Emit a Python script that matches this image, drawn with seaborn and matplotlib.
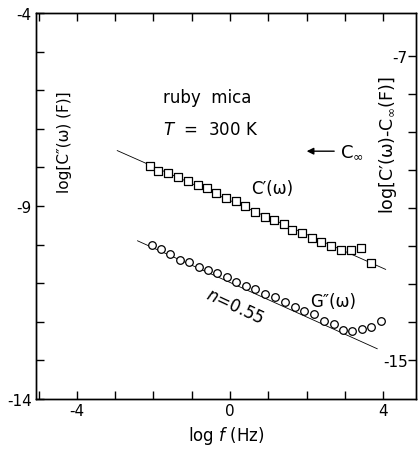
import matplotlib
matplotlib.use("Agg")
import matplotlib.pyplot as plt
import seaborn as sns
import pandas as pd

# C'(w) - C_inf  (right axis), log f in Hz
c1_logf = [-2.10, -1.87, -1.62, -1.37, -1.10, -0.84, -0.60, -0.37, -0.10, 0.15, 0.39, 0.65,
           0.92, 1.16, 1.40, 1.63, 1.89, 2.13, 2.39, 2.63, 2.89, 3.17, 3.43, 3.68]
c1_val = [-9.89, -10.02, -10.09, -10.18, -10.28, -10.41, -10.48, -10.61, -10.74, -10.83, -10.94, -11.10,
          -11.24, -11.33, -11.42, -11.57, -11.67, -11.80, -11.90, -11.99, -12.12, -12.10, -12.05, -12.45]

# G''(w)  (left axis)
g2_logf = [-2.03, -1.80, -1.57, -1.31, -1.07, -0.81, -0.58, -0.34, -0.08, 0.16, 0.42, 0.65,
           0.92, 1.18, 1.44, 1.70, 1.93, 2.20, 2.46, 2.72, 2.95, 3.19, 3.45, 3.69, 3.95]
g2_val = [-10.01, -10.11, -10.24, -10.40, -10.45, -10.58, -10.66, -10.74, -10.84, -10.97, -11.06, -11.15,
          -11.27, -11.36, -11.49, -11.62, -11.73, -11.81, -11.97, -12.06, -12.21, -12.23, -12.19, -12.13, -11.97]

# guide lines (slope n-1 = -0.45)
c1_fit_x = [-2.95, 4.07]
c1_fit_y = [-9.49, -12.62]
g2_fit_x = [-2.42, 3.85]
g2_fit_y = [-9.90, -12.70]

x_ticks = list(range(-5, 5))
x_labels = {-4: "-4", 0: "0", 4: "4"}
yl_ticks = list(range(-14, -3))
yl_labels = {-4: "-4", -9: "-9", -14: "-14"}
yr_ticks = list(range(-15, -6))
yr_labels = {-7: "-7", -15: "-15"}

sns.set_style("ticks")
plt.rcParams["font.family"] = ["DejaVu Sans"]
plt.rcParams["mathtext.fontset"] = "dejavusans"
plt.rcParams["text.color"] = "black"
plt.rcParams["axes.labelcolor"] = "black"
plt.rcParams["xtick.color"] = "black"
plt.rcParams["ytick.color"] = "black"

fig = plt.figure(figsize=(4.19, 4.52), dpi=100)
ax = fig.add_axes([36 / 419, 1 - 400 / 452, 380 / 419, 386 / 452])
ax2 = ax.twinx()

df_c = pd.DataFrame({"logf": c1_logf, "val": c1_val})
df_g = pd.DataFrame({"logf": g2_logf, "val": g2_val})

ax.plot(g2_fit_x, g2_fit_y, color="black", lw=0.6, zorder=1)
sns.scatterplot(data=df_g, x="logf", y="val", ax=ax, marker="o", s=30,
                facecolor="white", edgecolor="black", linewidth=0.9, zorder=3)

ax2.plot(c1_fit_x, c1_fit_y, color="black", lw=0.6, zorder=1)
sns.scatterplot(data=df_c, x="logf", y="val", ax=ax2, marker="s", s=32,
                facecolor="white", edgecolor="black", linewidth=0.9, zorder=3)

ax.set_xlim(-5.07, 4.86)
ax.set_ylim(-14, -4)
ax2.set_ylim(-16.03, -5.87)

ax.set_xticks(x_ticks)
ax.set_xticklabels([x_labels.get(t, "") for t in x_ticks])
ax.set_yticks(yl_ticks)
ax.set_yticklabels([yl_labels.get(t, "") for t in yl_ticks])
ax2.set_yticks(yr_ticks)
ax2.set_yticklabels([yr_labels.get(t, "") for t in yr_ticks])

ax.tick_params(axis="x", direction="in", length=6, width=1, labelsize=11, pad=3, top=True)
ax.tick_params(axis="y", direction="in", length=6, width=1, labelsize=11, pad=3)
ax2.tick_params(axis="y", direction="in", length=6, width=1, labelsize=11, pad=-6)
for lbl in ax2.get_yticklabels():
    lbl.set_horizontalalignment("right")

for a in (ax, ax2):
    for sp in a.spines.values():
        sp.set_linewidth(1.0)
        sp.set_color("black")

ax.set_xlabel("log $f$ (Hz)", fontsize=12, labelpad=4)
ax.set_ylabel("")
ax2.set_ylabel("")

tr = ax.transAxes
ax.text(0.076, 0.668, "log[C\u2033(\u03c9) (F)]", transform=tr, rotation=90,
        ha="center", va="center", fontsize=11)
ax2.text(0.926, 0.660, "log[C\u2032(\u03c9)-C$_\\infty$(F)]", transform=tr, rotation=90,
         ha="center", va="center", fontsize=12.5)
ax.text(0.334, 0.782, "ruby  mica", transform=tr, ha="left", va="center", fontsize=12)
ax.text(0.334, 0.699, "$T$  =  300 K", transform=tr, ha="left", va="center", fontsize=12)
ax.annotate("", xy=(0.705, 0.642), xytext=(0.792, 0.642), xycoords=tr,
            arrowprops=dict(arrowstyle="-|>", color="black", lw=1.0, mutation_scale=10))
ax.text(0.80, 0.642, "C$_\\infty$", transform=tr, ha="left", va="center", fontsize=13)
ax.text(0.621, 0.547, "C\u2032(\u03c9)", transform=tr, ha="center", va="center", fontsize=12)
ax.text(0.782, 0.254, "G\u2033(\u03c9)", transform=tr, ha="center", va="center", fontsize=12)
ax.text(0.524, 0.241, "$n$=0.55", transform=tr, ha="center", va="center", fontsize=12,
        rotation=-25)

fig.savefig("out.png", dpi=100)
